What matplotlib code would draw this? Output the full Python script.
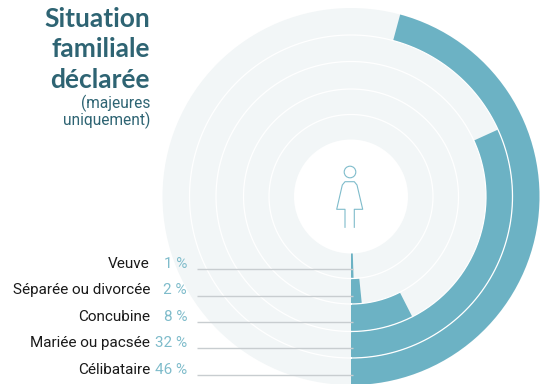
import numpy as np
import matplotlib
matplotlib.use("Agg")
import matplotlib.pyplot as plt
from matplotlib.patches import Circle

categories = ["Veuve", "Séparée ou divorcée", "Concubine", "Mariée ou pacsée", "Célibataire"]
values = [0.5, 1.6, 7.5, 31.8, 45.8]
pct_labels = ["1 %", "2 %", "8 %", "32 %", "46 %"]

W, H = 541, 384
CX, CY = 351, 196.5
R_OUT = 188.5
radii = [57, 82, 107.5, 135, 161.5, R_OUT]
TEAL = "#6cb2c4"
BG = "#f2f6f7"
DARK = "#2e6473"
LABEL = "#7fbccb"

plt.rcParams["font.family"] = ["Roboto", "DejaVu Sans"]

fig = plt.figure(figsize=(W / 100, H / 100), dpi=100, facecolor="white")

# overlay en pixels pour le texte, les traits et la silhouette
over = fig.add_axes([0, 0, 1, 1], zorder=3)
over.set_xlim(0, W)
over.set_ylim(H, 0)
over.axis("off")
over.patch.set_alpha(0)

# anneaux
ax = fig.add_axes([(CX - R_OUT) / W, 1 - (CY + R_OUT) / H, 2 * R_OUT / W, 2 * R_OUT / H],
                  projection="polar", zorder=1)
ax.set_theta_zero_location("S")
ax.set_theta_direction(1)
ax.set_ylim(0, R_OUT)
ax.axis("off")

t = np.linspace(0, 2 * np.pi, 400)
for i, v in enumerate(values):
    bottom = radii[i]
    height = radii[i + 1] - bottom
    ax.bar(np.pi, height, width=2 * np.pi, bottom=bottom, color=BG, edgecolor="none", clip_on=False)
    ax.bar(0, height, width=v / 100 * 2 * np.pi, bottom=bottom, align="edge", color=TEAL,
           edgecolor="none", clip_on=False)
    # separation blanche entre anneaux
    if i > 0:
        ax.plot(t, np.full_like(t, bottom), color="white", lw=0.9, clip_on=False)

# libelles
label_y = [263.5, 290, 317, 343, 370]
line_y = [269, 296, 322, 348, 375]
for cat, pct, ly, sy in zip(categories, pct_labels, label_y, line_y):
    over.text(150, ly, cat, ha="right", va="center", fontsize=11, color="#1a1a1a")
    over.text(187, ly, pct, ha="right", va="center", fontsize=11, color=LABEL)
    over.plot([197, 353], [sy, sy], color="#c8cdd0", lw=1, solid_capstyle="butt")

# titre
for txt, y in zip(["Situation", "familiale", "déclarée"], [19, 49, 80]):
    over.text(150, y, txt, ha="right", va="center", fontsize=19, fontweight="bold",
              family=["Lato", "DejaVu Sans"], color=DARK)
for txt, y in zip(["(majeures", "uniquement)"], [103, 120]):
    over.text(150, y, txt, ha="right", va="center", fontsize=11.2, color=DARK)

# silhouette
over.add_patch(Circle((350, 172), 5.8, fill=False, ec=LABEL, lw=0.8))
body_x = [345, 345, 336.7, 342.3, 345, 354.3, 357, 362.7, 354.3, 354.3]
body_y = [227.3, 209.3, 209.3, 185, 181.7, 181.7, 185, 209.3, 209.3, 227.3]
over.plot(body_x, body_y, color=LABEL, lw=0.8)

fig.savefig("out.png", dpi=100)
